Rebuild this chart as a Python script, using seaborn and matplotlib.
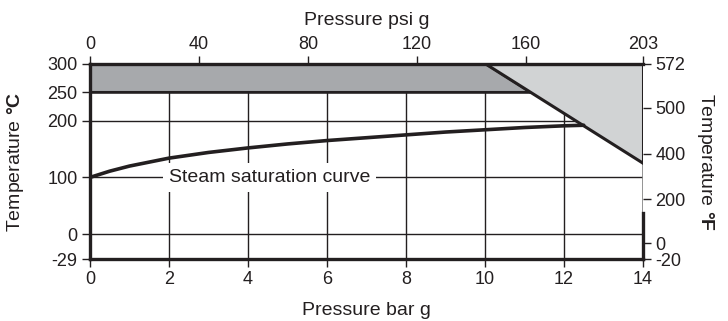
import numpy as np
import matplotlib
matplotlib.use("Agg")
import matplotlib.pyplot as plt
import seaborn as sns

# steam saturation curve (bar g -> deg C)
sat_bar = [0, 0.5, 1, 1.5, 2, 3, 4, 5, 6, 7, 8, 9, 10, 11, 12, 12.5]
sat_temp = [100, 111, 120, 127, 134, 144, 152, 159, 165, 170, 175, 180, 184, 188, 191, 192]

# body limit line (top edge at 300 C down to the 14 bar edge)
limit_bar = [10.03, 14.0]
limit_temp = [300, 125]

band_temp = [250, 300]   # dark grey band
bar_max = 14

bar_ticks = [0, 2, 4, 6, 8, 10, 12, 14]
c_ticks = [-29, 0, 100, 200, 250, 300]
psi_ticks = [0, 40, 80, 120, 160, 203]
f_ticks = [-20, 0, 200, 400, 500, 572]
f_pos = [-29, -10.4, 61.4, 142, 223, 300]   # where the F ticks sit against the C scale

ink = "#231f20"

# the band below 0 C is stretched on the original chart
k = 43.9 / 29


def fwd(v):
    v = np.asarray(v, dtype=float)
    return np.where(v < 0, v * k, v)


def inv(v):
    v = np.asarray(v, dtype=float)
    return np.where(v < 0, v / k, v)


sns.set_style("ticks")
plt.rcParams["font.family"] = ["Liberation Sans", "DejaVu Sans"]
plt.rcParams["mathtext.fontset"] = "custom"
plt.rcParams["mathtext.rm"] = "Liberation Sans"
plt.rcParams["mathtext.bf"] = "Liberation Sans:bold"
plt.rcParams["axes.unicode_minus"] = False

fig = plt.figure(figsize=(7.28, 3.21), dpi=100)
ax = fig.add_axes([90 / 728, 1 - 259 / 321, 553 / 728, 195 / 321])
ax.set_yscale("function", functions=(fwd, inv))
ax.set_xlim(0, bar_max)
ax.set_ylim(-29, 300)

ax.set_xticks(bar_ticks)
ax.set_yticks(c_ticks, labels=[str(v) for v in c_ticks])
ax.grid(True, color=ink, lw=1)
ax.set_axisbelow(True)
ax.axvline(bar_max, color="#8a8a8a", lw=1.2, zorder=1)

# shaded areas
cross = np.interp(band_temp[0], limit_temp[::-1], limit_bar[::-1])
ax.fill([0, 0, limit_bar[0], cross],
        [band_temp[0], band_temp[1], band_temp[1], band_temp[0]],
        facecolor="#a7a9ac", edgecolor=ink, lw=2, zorder=2)
ax.fill([limit_bar[0], bar_max, bar_max],
        [limit_temp[0], limit_temp[0], limit_temp[1]],
        facecolor="#d1d3d4", edgecolor=ink, lw=2.2, zorder=2)

sns.lineplot(x=sat_bar, y=sat_temp, ax=ax, color=ink, lw=2.6, sort=False, zorder=3)
ax.text(2.0, 100, "Steam saturation curve", fontsize=14, color=ink, ha="left", va="center",
        zorder=4, bbox=dict(facecolor="white", edgecolor="none", pad=4))

for side in ["left", "bottom", "top"]:
    ax.spines[side].set_linewidth(2.4)
    ax.spines[side].set_color(ink)
ax.spines["right"].set_linewidth(2.4)
ax.spines["right"].set_color(ink)
ax.spines["right"].set_bounds(-29, 38)

ax.tick_params(direction="out", length=6, width=1, color=ink, labelsize=13, labelcolor=ink, pad=3)
ax.set_xlabel("Pressure bar g", fontsize=14, color=ink, labelpad=10)
ax.set_ylabel(r"Temperature $\mathbf{°C}$", fontsize=14, color=ink, labelpad=15)

# psi g on top
top = ax.secondary_xaxis("top", functions=(lambda b: b * 14.5038, lambda p: p / 14.5038))
top.set_xticks(psi_ticks)
top.tick_params(direction="out", length=6, width=1, color=ink, labelsize=13, labelcolor=ink, pad=2)
top.spines["top"].set_visible(False)
top.set_xlabel("Pressure psi g", fontsize=14, color=ink, labelpad=8)

# deg F on the right
ax2 = ax.twinx()
ax2.set_yscale("function", functions=(fwd, inv))
ax2.set_ylim(-29, 300)
ax2.set_yticks(f_pos, labels=[str(v) for v in f_ticks])
ax2.tick_params(direction="out", length=6, width=1, color=ink, labelsize=13, labelcolor=ink, pad=3)
for side in ax2.spines:
    ax2.spines[side].set_visible(False)
ax2.set_ylabel(r"Temperature $\mathbf{°F}$", fontsize=14, color=ink, rotation=-90, labelpad=22)

fig.savefig("out.png", dpi=100)
